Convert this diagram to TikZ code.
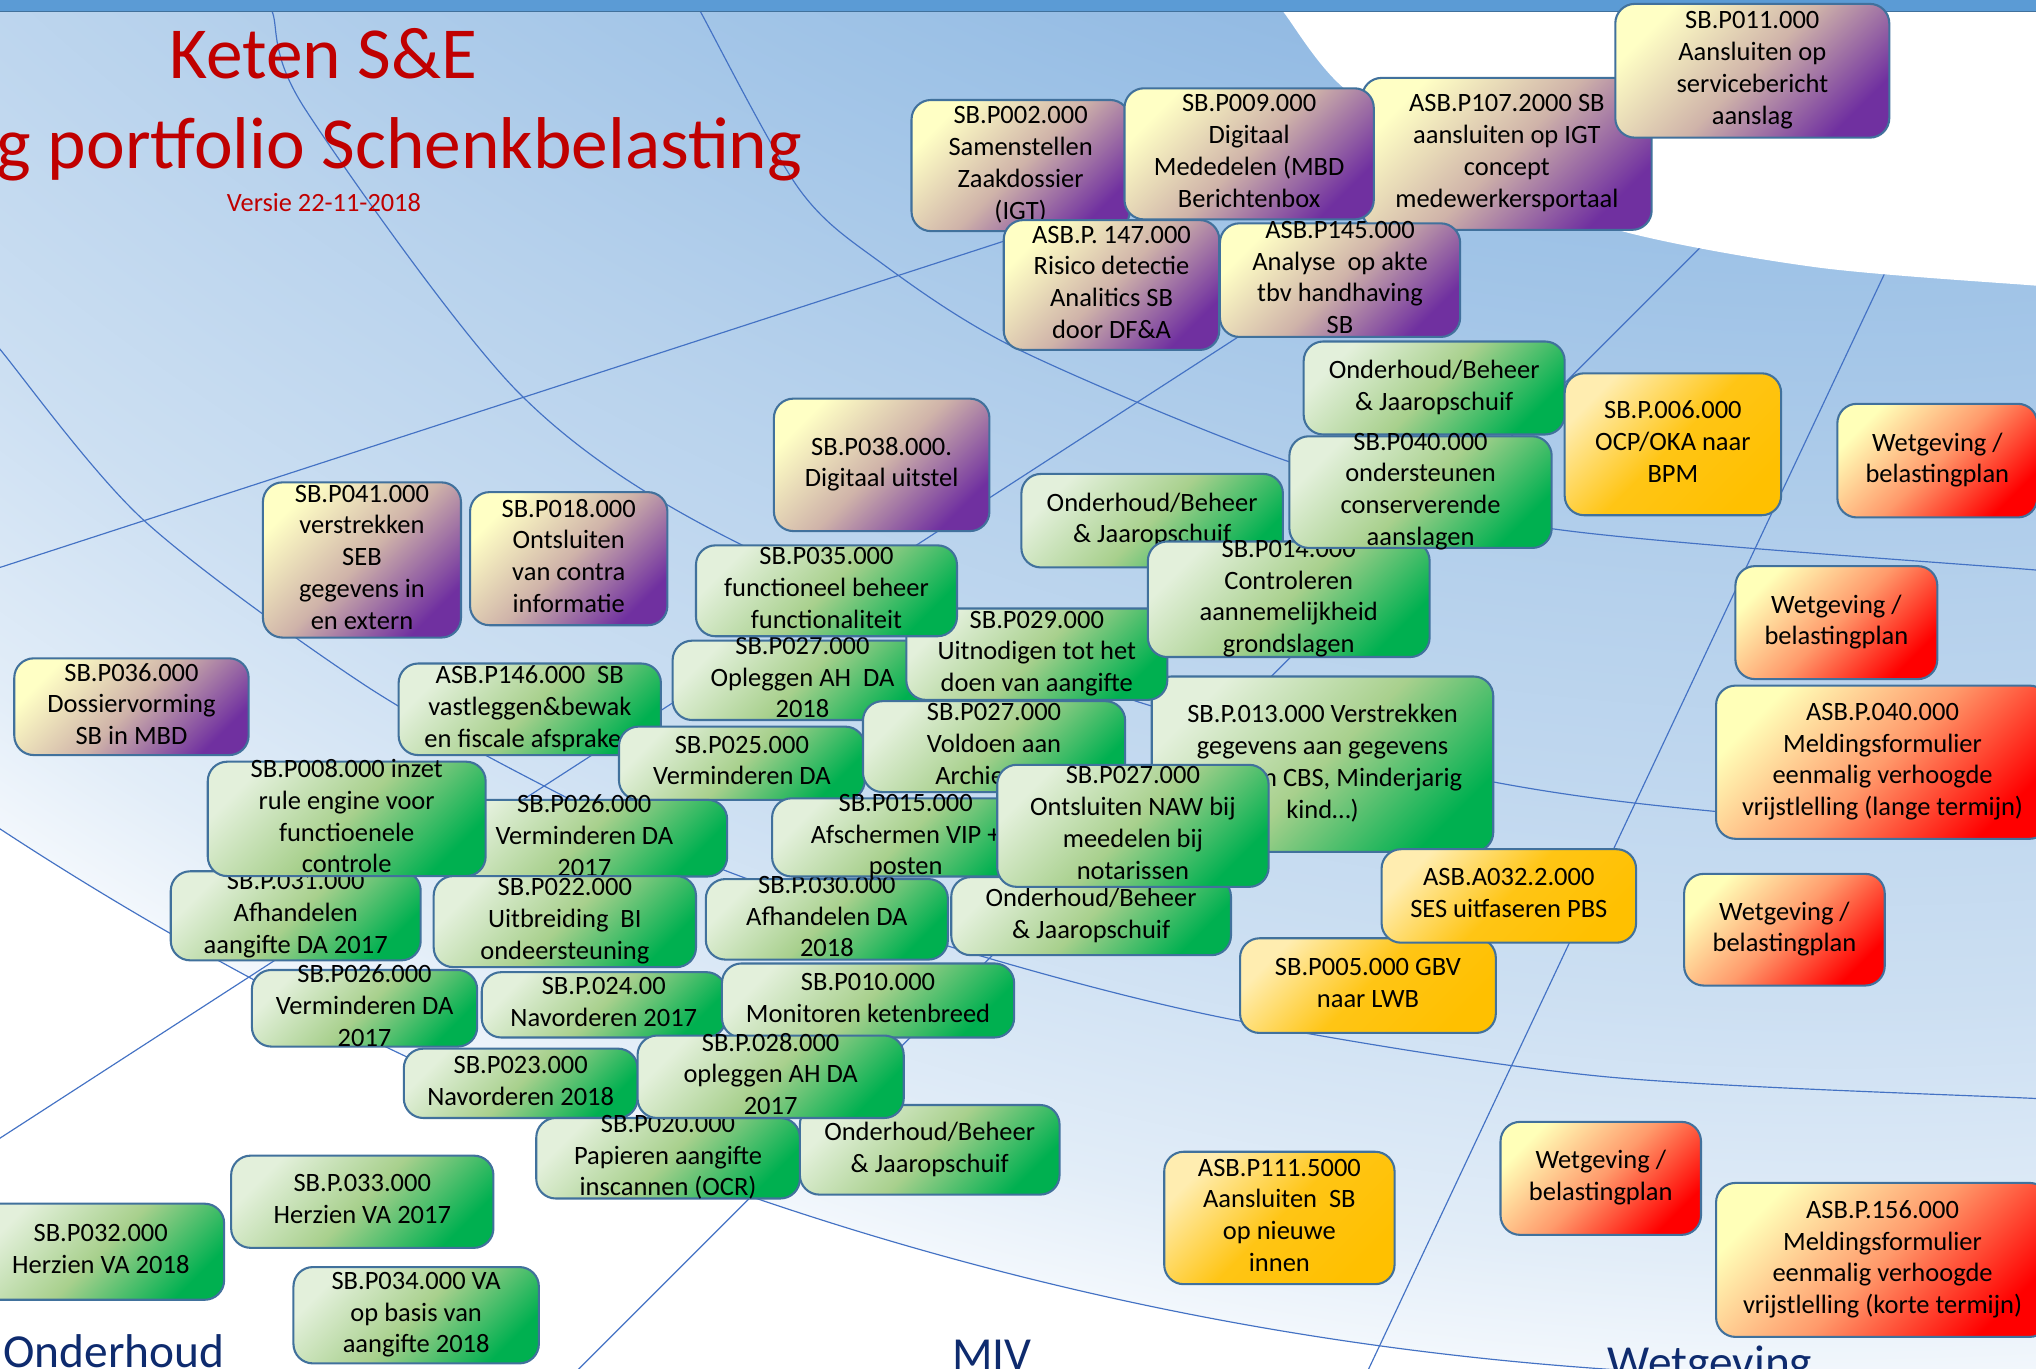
\documentclass[tikz,border=0pt]{standalone}
\usepackage{fontspec}
\setmainfont{Carlito}
\definecolor{bgA}{HTML}{8AB4E0}
\definecolor{bgB}{HTML}{9CC1E6}
\definecolor{bgC}{HTML}{B6D1EC}
\definecolor{bgD}{HTML}{CCDFF2}
\definecolor{bgE}{HTML}{E2EDF8}
\definecolor{bgF}{HTML}{F2F7FC}
\definecolor{purA}{HTML}{FFFFC5}
\definecolor{purB}{HTML}{CFB3A9}
\definecolor{purC}{HTML}{7030A0}
\definecolor{grnA}{HTML}{E3F0DB}
\definecolor{grnB}{HTML}{A8D08D}
\definecolor{grnC}{HTML}{00B050}
\definecolor{orgA}{HTML}{FFEDB0}
\definecolor{orgB}{HTML}{FFC515}
\definecolor{orgC}{HTML}{FFC000}
\definecolor{redA}{HTML}{FFFFB8}
\definecolor{redB}{HTML}{FF9A6B}
\definecolor{redC}{HTML}{FF0000}
\definecolor{bordercol}{HTML}{41719C}
\definecolor{arccol}{HTML}{4472C4}
\definecolor{titlered}{HTML}{C00000}
\definecolor{labcol}{HTML}{0E2B6E}
\definecolor{bandcol}{HTML}{5B9BD5}
\pgfdeclareradialshading{bgshade}{\pgfpoint{0bp}{0bp}}{color(0bp)=(bgA); color(13.9bp)=(bgA); color(15.74bp)=(bgB); color(18.52bp)=(bgC); color(21.3bp)=(bgD); color(23.15bp)=(bgE); color(23.96bp)=(bgF); color(25bp)=(white); color(50bp)=(white)}
\tikzset{
  kbox/.style={draw=bordercol, line width=1.6pt, rounded corners=15pt, inner sep=0pt, outer sep=0pt, shape=rectangle},
  pur/.style={top color=purA, bottom color=purC, middle color=purB, shading angle=45},
  grn/.style={top color=grnA, bottom color=grnC, middle color=grnB, shading angle=45},
  org/.style={top color=orgA, bottom color=orgC, middle color=orgB, shading angle=45},
  rd/.style={top color=redA, bottom color=redC, middle color=redB, shading angle=45},
  ktext/.style={align=center, inner sep=0pt, text=black, font=\fontsize{20.4}{24.5}\selectfont, execute at begin node=\strut, execute at end node=\strut},
  arcline/.style={draw=arccol, line width=0.9pt},
  biglabel/.style={font=\fontsize{36.5}{40}\selectfont, text=labcol, inner sep=0pt, anchor=base west},
  titletext/.style={text=titlered, inner sep=0pt},
}
\newcommand\kbx[7]{%
\node[kbox,#2,minimum width={(#5)-(#3)},minimum height={(#6)-(#4)}] (#1) at ({((#3)+(#5))/2},{((#4)+(#6))/2}) {};
\node[ktext] (#1t) at ({((#3)+(#5))/2},{((#4)+(#6))/2+1.5}) {#7};}
\begin{document}
\begin{tikzpicture}[x=1pt,y=-1pt]
\useasboundingbox (0,0) rectangle (1568,1054);
\clip (0,0) rectangle (1568,1054);
% background
\shade[shading=bgshade] (1417.5,-1528) circle (2700);
\fill[white, even odd rule] (-20,-20) rectangle (1620,1100) (1417.5,-1528) circle (2588.6);
% lines
\draw[arcline] (1417.5,-1528) circle (2588.6);
\draw[arcline] plot[smooth] coordinates {(-10,256) (0,269) (110,400) (280,527) (430,611) (560,671) (758,737) (953,786) (1234,829) (1568,846) (1580,846.5)};
\draw[arcline] plot[smooth] coordinates {(535,-2) (540,10) (615,145) (678,202) (784,269) (994,356) (1194,407) (1568,439) (1580,440)};
\draw[arcline] plot[smooth] coordinates {(205,-2) (210,10) (235,84) (400,303) (570,419) (878,541) (1149,602) (1322,625) (1568,642) (1580,643)};
\draw[arcline] (0,437) -- (800,177);
\draw[arcline] (1200,100) -- (-10,883);
\draw[arcline] (1320,180) -- (435,1065);
\draw[arcline] (1455,203) -- (1049,1065);
% white region top right
\fill[white] plot[smooth] coordinates {(975,-10) (989,10) (1034,67) (1130,133) (1249,178) (1400,206) (1568,220) (1600,222)} -- (1600,-10) -- cycle;
% top band
\fill[bandcol] (0,0) rectangle (1568,9);
\draw[bordercol, line width=1.2pt] (0,9) -- (1568,9);
% titles
\node[titletext, anchor=base, font=\fontsize{56.5}{68}\selectfont] (t1) at (249,60.5) {Keten S\&E};
\node[titletext, anchor=base east, font=\fontsize{56.5}{68}\selectfont] (t2) at (618,129.5) {g portfolio Schenkbelasting};
\node[titletext, anchor=base, font=\fontsize{20.3}{24}\selectfont] (t3) at (249.5,163) {Versie 22-11-2018};
% boxes
\kbx{p107}{pur}{1049}{60}{1272}{177}{ASB.P107.2000 SB\\aansluiten op IGT\\concept\\medewerkersportaal}
\kbx{p011}{pur}{1244}{3}{1455}{106}{SB.P011.000\\Aansluiten op\\servicebericht\\aanslag}
\kbx{p002}{pur}{702}{77}{870}{178}{SB.P002.000\\Samenstellen\\Zaakdossier\\(IGT)}
\kbx{p009}{pur}{866}{68}{1058}{169}{SB.P009.000\\Digitaal\\Mededelen (MBD\\Berichtenbox}
\kbx{p147}{pur}{773}{169.5}{939}{269.5}{ASB.P. 147.000\\Risico detectie\\Analitics SB\\door DF\&A}
\kbx{p145}{pur}{939.5}{172}{1124.5}{259.5}{ASB.P145.000\\Analyse\ \ op akte\\tbv handhaving\\SB}
\kbx{p038}{pur}{596}{307}{762}{409}{SB.P038.000.\\Digitaal uitstel}
\kbx{p041}{pur}{202.5}{371.5}{355}{491}{SB.P041.000\\verstrekken\\SEB\\gegevens in\\en extern}
\kbx{p018}{pur}{362}{379}{514}{481.5}{SB.P018.000\\Ontsluiten\\van contra\\informatie}
\kbx{p036}{pur}{11}{507}{191.5}{581.5}{SB.P036.000\\Dossiervorming\\SB in MBD}
\kbx{p013}{grn}{887}{521}{1150}{656}{SB.P.013.000 Verstrekken\\gegevens aan gegevens\\\hphantom{(o.a. va}n CBS, Minderjarig\\kind…)}
\kbx{p027o}{grn}{518}{493.4}{718}{554.5}{SB.P027.000\\Opleggen AH\ \ DA\\2018}
\kbx{p029}{grn}{698}{468.6}{899}{539}{SB.P029.000\\Uitnodigen tot het\\doen van aangifte}
\kbx{p035}{grn}{536}{420}{737}{490}{SB.P035.000\\functioneel beheer\\functionaliteit}
\kbx{ond12}{grn}{1004}{263}{1205}{334.6}{Onderhoud/Beheer\\\& Jaaropschuif}
\kbx{ond14}{grn}{786.6}{365}{988}{437}{Onderhoud/Beheer\\\& Jaaropschuif}
\kbx{p014}{grn}{884}{417}{1101}{506}{SB.P014.000\\Controleren\\aannemelijkheid\\grondslagen}
\kbx{p040}{grn}{993}{336}{1195}{422}{SB.P040.000\\ondersteunen\\conserverende\\aanslagen}
\kbx{p146}{grn}{307}{511}{509}{581.5}{ASB.P146.000\ \ SB\\vastleggen\&bewak\\en fiscale afspraken}
\kbx{p025}{grn}{476.7}{559.6}{666}{616}{SB.P025.000\\Verminderen DA}
\kbx{p030}{grn}{543.6}{677}{730}{739}{SB.P.030.000\\Afhandelen DA\\2018}
\kbx{p015}{grn}{594.6}{614.8}{800.4}{675}{SB.P015.000\\Afschermen VIP +\\posten}
\kbx{p027v}{grn}{664.6}{540}{866.5}{610}{SB.P027.000\\Voldoen aan\\Archie\hphantom{fwet}}
\kbx{ond29}{grn}{732.6}{675.5}{948}{735.6}{Onderhoud/Beheer\\\& Jaaropschuif}
\kbx{p027n}{grn}{768}{589}{977}{683}{SB.P027.000\\Ontsluiten NAW bij\\meedelen bij\\notarissen}
\kbx{p031}{grn}{131.5}{671}{324}{739.6}{SB.P.031.000\\Afhandelen\\aangifte DA 2017}
\kbx{p026a}{grn}{340}{616}{560}{675}{SB.P026.000\\Verminderen DA\\2017}
\kbx{p008}{grn}{160}{586.6}{374}{674.7}{SB.P008.000 inzet\\rule engine voor\\functioenele\\controle}
\kbx{p022}{grn}{334}{674.7}{536}{744.8}{SB.P022.000\\Uitbreiding\ \ BI\\ondeersteuning}
\kbx{p026b}{grn}{194}{747}{367.5}{806}{SB.P026.000\\Verminderen DA\\2017}
\kbx{p024}{grn}{371}{748.7}{559}{799}{SB.P.024.00\\Navorderen 2017}
\kbx{p010}{grn}{556}{742}{781}{799}{SB.P010.000\\Monitoren ketenbreed}
\kbx{p023}{grn}{311}{807.6}{491}{861}{SB.P023.000\\Navorderen 2018}
\kbx{ond36}{grn}{616}{851}{816}{920}{Onderhoud/Beheer\\\& Jaaropschuif}
\kbx{p020}{grn}{413}{861}{616}{923}{SB.P020.000\\Papieren aangifte\\inscannen (OCR)}
\kbx{p028}{grn}{491}{797.5}{696}{861}{SB.P.028.000\\opleggen AH DA\\2017}
\kbx{p033}{grn}{178}{890}{380}{961}{SB.P.033.000\\Herzien VA 2017}
\kbx{p032}{grn}{-17.4}{927}{172.6}{1001}{SB.P032.000\\Herzien VA 2018}
\kbx{p034}{grn}{226}{975.8}{415}{1050}{SB.P034.000 VA\\op basis van\\aangifte 2018}
\kbx{p006}{org}{1205}{287.5}{1371.7}{396.8}{SB.P.006.000\\OCP/OKA naar\\BPM}
\kbx{p005}{org}{955}{722.6}{1152}{795.5}{SB.P005.000 GBV\\naar LWB}
\kbx{a032}{org}{1064}{654}{1260}{726}{ASB.A032.2.000\\SES uitfaseren PBS}
\kbx{p111}{org}{896.6}{887}{1074}{989}{ASB.P111.5000\\Aansluiten\ \ SB\\op nieuwe\\innen}
\kbx{w1}{rd}{1415}{311}{1569}{398.5}{Wetgeving /\\belastingplan}
\kbx{w2}{rd}{1336.5}{436}{1492}{523}{Wetgeving /\\belastingplan}
\kbx{a040}{rd}{1321.6}{528}{1578}{646}{ASB.P.040.000\\Meldingsformulier\\eenmalig verhoogde\\vrijstlelling (lange termijn)}
\kbx{w3}{rd}{1297}{673}{1451.5}{759}{Wetgeving /\\belastingplan}
\kbx{w4}{rd}{1155.6}{864}{1310}{951}{Wetgeving /\\belastingplan}
\kbx{a156}{rd}{1321.6}{911}{1578}{1029.6}{ASB.P.156.000\\Meldingsformulier\\eenmalig verhoogde\\vrijstlelling (korte termijn)}
% bottom labels
\node[biglabel] (l1) at (2.5,1053) {Onderhoud};
\node[biglabel] (l2) at (733,1055.5) {MIV};
\node[biglabel] (l3) at (1238,1061.7) {Wetgeving};
\end{tikzpicture}
\end{document}
